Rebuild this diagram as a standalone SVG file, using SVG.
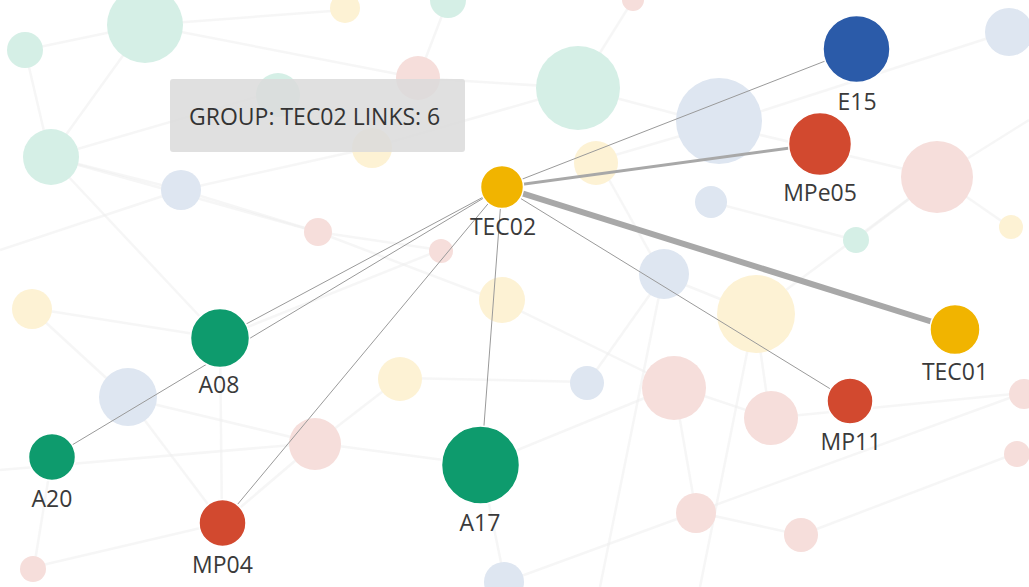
<svg xmlns="http://www.w3.org/2000/svg" width="1029" height="587" viewBox="0 0 1029 587">
<style>
.bgl{stroke:#eeeeee;stroke-width:2.5;opacity:0.55;fill:none}
.fg{fill:#d5efe6}.fb{fill:#dee6f1}.fy{fill:#fdf2d4}.fp{fill:#f6dedb}
.lnk{stroke:#9a9a9a;stroke-width:1;fill:none}
.node{stroke:#ffffff;stroke-width:1.5}
.yel{fill:#f1b400}.blu{fill:#2b5ba9}.red{fill:#d2492f}.grn{fill:#0e9b6d}
.lbl{font-family:"Open Sans","Noto Sans",sans-serif;font-size:23px;fill:#3a3a3a;text-anchor:middle}
.tip{font-family:"Open Sans","Noto Sans",sans-serif;font-size:23px;fill:#333333}
</style>
<rect width="1029" height="587" fill="#ffffff"/>
<g id="background">
<g id="background-links">
<line class="bgl" x1="25" y1="50" x2="145" y2="25"/>
<line class="bgl" x1="25" y1="50" x2="50" y2="157"/>
<line class="bgl" x1="145" y1="25" x2="50" y2="157"/>
<line class="bgl" x1="145" y1="25" x2="418" y2="78"/>
<line class="bgl" x1="145" y1="25" x2="345" y2="10"/>
<line class="bgl" x1="50" y1="157" x2="181" y2="190"/>
<line class="bgl" x1="50" y1="157" x2="318" y2="232"/>
<line class="bgl" x1="50" y1="157" x2="280" y2="90"/>
<line class="bgl" x1="50" y1="157" x2="220" y2="338"/>
<line class="bgl" x1="181" y1="190" x2="370" y2="148"/>
<line class="bgl" x1="181" y1="190" x2="318" y2="232"/>
<line class="bgl" x1="318" y1="232" x2="440" y2="250"/>
<line class="bgl" x1="318" y1="232" x2="502" y2="302"/>
<line class="bgl" x1="370" y1="148" x2="578" y2="88"/>
<line class="bgl" x1="418" y1="78" x2="578" y2="88"/>
<line class="bgl" x1="418" y1="78" x2="448" y2="0"/>
<line class="bgl" x1="578" y1="88" x2="718" y2="125"/>
<line class="bgl" x1="578" y1="88" x2="633" y2="0"/>
<line class="bgl" x1="598" y1="160" x2="718" y2="125"/>
<line class="bgl" x1="598" y1="160" x2="663" y2="276"/>
<line class="bgl" x1="718" y1="125" x2="938" y2="177"/>
<line class="bgl" x1="718" y1="125" x2="1007" y2="32"/>
<line class="bgl" x1="711" y1="202" x2="855" y2="240"/>
<line class="bgl" x1="855" y1="240" x2="938" y2="177"/>
<line class="bgl" x1="938" y1="177" x2="1010" y2="227"/>
<line class="bgl" x1="938" y1="177" x2="1029" y2="120"/>
<line class="bgl" x1="663" y1="276" x2="755" y2="313"/>
<line class="bgl" x1="663" y1="276" x2="588" y2="382"/>
<line class="bgl" x1="755" y1="313" x2="770" y2="418"/>
<line class="bgl" x1="755" y1="313" x2="938" y2="177"/>
<line class="bgl" x1="674" y1="386" x2="770" y2="418"/>
<line class="bgl" x1="674" y1="386" x2="696" y2="512"/>
<line class="bgl" x1="696" y1="512" x2="801" y2="535"/>
<line class="bgl" x1="801" y1="535" x2="1019" y2="452"/>
<line class="bgl" x1="696" y1="512" x2="1023" y2="393"/>
<line class="bgl" x1="770" y1="418" x2="1023" y2="393"/>
<line class="bgl" x1="502" y1="302" x2="674" y2="386"/>
<line class="bgl" x1="400" y1="378" x2="588" y2="382"/>
<line class="bgl" x1="400" y1="378" x2="316" y2="443"/>
<line class="bgl" x1="316" y1="443" x2="128" y2="398"/>
<line class="bgl" x1="128" y1="398" x2="30" y2="308"/>
<line class="bgl" x1="30" y1="308" x2="220" y2="338"/>
<line class="bgl" x1="128" y1="398" x2="222" y2="523"/>
<line class="bgl" x1="222" y1="523" x2="316" y2="443"/>
<line class="bgl" x1="222" y1="523" x2="220" y2="338"/>
<line class="bgl" x1="34" y1="567" x2="52" y2="457"/>
<line class="bgl" x1="34" y1="567" x2="222" y2="523"/>
<line class="bgl" x1="505" y1="582" x2="481" y2="465"/>
<line class="bgl" x1="505" y1="582" x2="696" y2="512"/>
<line class="bgl" x1="316" y1="443" x2="481" y2="465"/>
<line class="bgl" x1="481" y1="465" x2="674" y2="386"/>
<line class="bgl" x1="220" y1="338" x2="440" y2="250"/>
<line class="bgl" x1="700" y1="587" x2="755" y2="313"/>
<line class="bgl" x1="600" y1="587" x2="663" y2="276"/>
<line class="bgl" x1="0" y1="250" x2="181" y2="190"/>
<line class="bgl" x1="0" y1="470" x2="316" y2="443"/>
</g>
<g id="background-nodes">
<circle class="fg" cx="145" cy="25" r="38"/>
<circle class="fg" cx="25" cy="50" r="18"/>
<circle class="fy" cx="345" cy="8" r="15"/>
<circle class="fg" cx="448" cy="0" r="18"/>
<circle class="fp" cx="633" cy="0" r="11"/>
<circle class="fg" cx="578" cy="88" r="42"/>
<circle class="fp" cx="418" cy="78" r="22"/>
<circle class="fg" cx="278" cy="95" r="22"/>
<circle class="fy" cx="372" cy="148" r="20"/>
<circle class="fg" cx="51" cy="157" r="28"/>
<circle class="fb" cx="181" cy="190" r="20"/>
<circle class="fp" cx="318" cy="232" r="14"/>
<circle class="fp" cx="441" cy="251" r="12"/>
<circle class="fb" cx="719" cy="121" r="43"/>
<circle class="fy" cx="596" cy="163" r="22"/>
<circle class="fb" cx="711" cy="202" r="16"/>
<circle class="fp" cx="937" cy="177" r="36"/>
<circle class="fb" cx="1009" cy="32" r="24"/>
<circle class="fy" cx="1011" cy="227" r="12"/>
<circle class="fg" cx="856" cy="240" r="13"/>
<circle class="fb" cx="664" cy="274" r="25"/>
<circle class="fy" cx="756" cy="314" r="39"/>
<circle class="fy" cx="502" cy="300" r="23"/>
<circle class="fy" cx="32" cy="309" r="20"/>
<circle class="fb" cx="128" cy="397" r="29"/>
<circle class="fy" cx="400" cy="379" r="22"/>
<circle class="fp" cx="315" cy="444" r="26"/>
<circle class="fb" cx="587" cy="383" r="17"/>
<circle class="fp" cx="674" cy="388" r="32"/>
<circle class="fp" cx="771" cy="418" r="27"/>
<circle class="fp" cx="696" cy="513" r="20"/>
<circle class="fp" cx="801" cy="535" r="17"/>
<circle class="fp" cx="1024" cy="394" r="15"/>
<circle class="fp" cx="1017" cy="454" r="13"/>
<circle class="fp" cx="33" cy="569" r="13"/>
<circle class="fb" cx="504" cy="582" r="20"/>
</g>
</g>
<g id="connectors">
<line class="lnk" x1="502" y1="187" x2="856" y2="49"/>
<line class="lnk" x1="502" y1="187" x2="820" y2="144" style="stroke:#a8a8a8;stroke-width:3"/>
<line class="lnk" x1="502" y1="187" x2="955" y2="329" style="stroke:#a8a8a8;stroke-width:6"/>
<line class="lnk" x1="502" y1="187" x2="850" y2="401"/>
<line class="lnk" x1="502" y1="187" x2="481" y2="465"/>
<line class="lnk" x1="502" y1="187" x2="222" y2="523"/>
<line class="lnk" x1="502" y1="187" x2="220" y2="338"/>
<line class="lnk" x1="502" y1="187" x2="52" y2="457"/>
</g>
<g id="node-TEC02"><circle class="node yel" cx="502" cy="187" r="21.5"/><text class="lbl" x="503" y="235">TEC02</text></g>
<g id="node-E15"><circle class="node blu" cx="856.5" cy="49" r="33.5"/><text class="lbl" x="857" y="110">E15</text></g>
<g id="node-MPe05"><circle class="node red" cx="820" cy="144" r="31.5"/><text class="lbl" x="820" y="201">MPe05</text></g>
<g id="node-TEC01"><circle class="node yel" cx="955" cy="329.5" r="25"/><text class="lbl" x="955" y="380">TEC01</text></g>
<g id="node-MP11"><circle class="node red" cx="850" cy="401" r="23"/><text class="lbl" x="851" y="450">MP11</text></g>
<g id="node-A08"><circle class="node grn" cx="220" cy="338" r="29.5"/><text class="lbl" x="219" y="393">A08</text></g>
<g id="node-A20"><circle class="node grn" cx="52" cy="457" r="23.5"/><text class="lbl" x="52" y="507">A20</text></g>
<g id="node-MP04"><circle class="node red" cx="222.5" cy="523" r="23.5"/><text class="lbl" x="222.5" y="573">MP04</text></g>
<g id="node-A17"><circle class="node grn" cx="480.5" cy="465" r="39"/><text class="lbl" x="480" y="531">A17</text></g>
<g id="tooltip">
<rect x="170" y="79" width="295" height="73" rx="3" fill="#dadada" fill-opacity="0.85"/>
<text class="tip" x="189" y="125">GROUP: TEC02 LINKS: 6</text>
</g>
</svg>
